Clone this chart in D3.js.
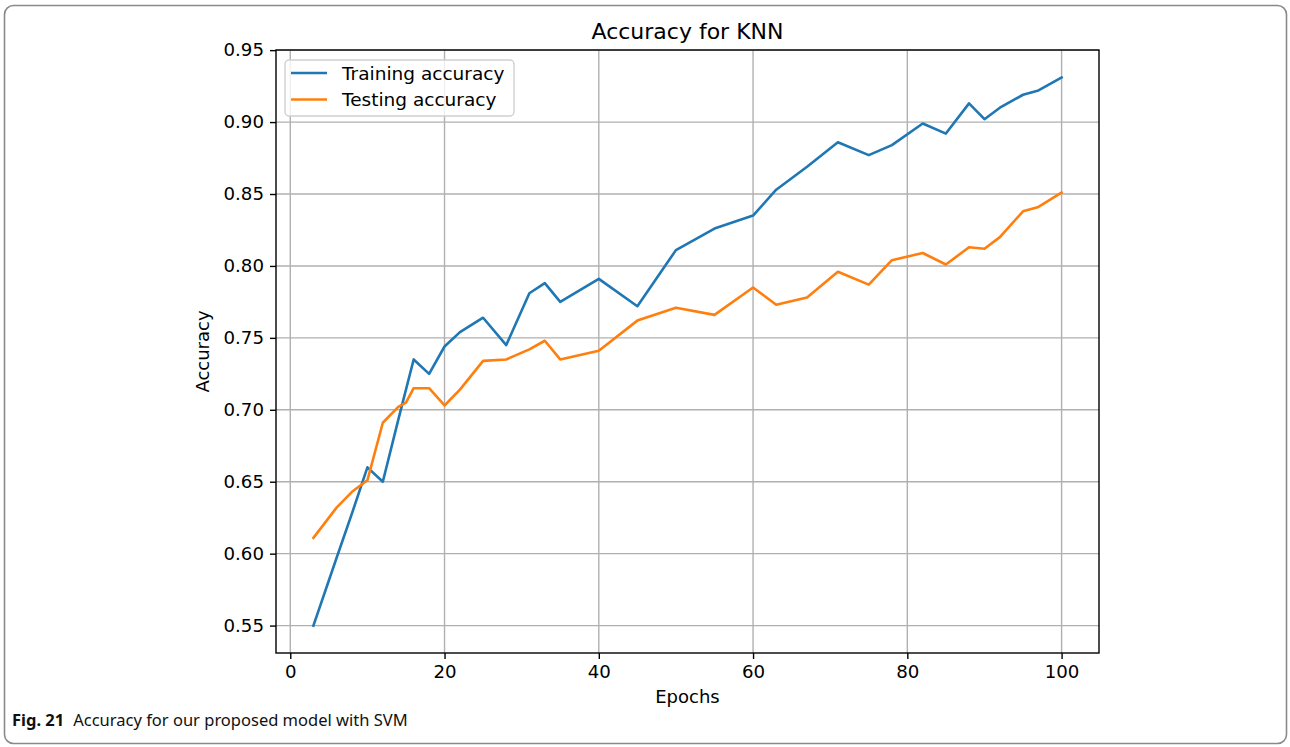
<!DOCTYPE html>
<html>
<head>
<meta charset="utf-8">
<script src="https://cdn.jsdelivr.net/npm/d3@7/dist/d3.min.js"></script>
<style>
  html, body { margin: 0; padding: 0; background: #fff; }
  svg { display: block; }
  .tick text { font-family: "DejaVu Sans", sans-serif; }
</style>
</head>
<body>
<svg id="chart" width="1290" height="747"></svg>
<script>
// ---- data ----
const epochs = [3, 6, 8, 10, 12, 14, 15, 16, 18, 20, 22, 25, 28, 31, 33, 35, 40, 45, 50, 55, 60, 63, 67, 71, 75, 78, 82, 85, 88, 90, 92, 95, 97, 100];
const trainingAccuracy = [0.550, 0.597, 0.628, 0.660, 0.650, 0.693, 0.714, 0.735, 0.725, 0.744, 0.754, 0.764, 0.745, 0.781, 0.788, 0.775, 0.791, 0.772, 0.811, 0.826, 0.835, 0.853, 0.869, 0.886, 0.877, 0.884, 0.899, 0.892, 0.913, 0.902, 0.910, 0.919, 0.922, 0.931];
const testingAccuracy = [0.611, 0.632, 0.643, 0.651, 0.691, 0.702, 0.705, 0.715, 0.715, 0.703, 0.714, 0.734, 0.735, 0.742, 0.748, 0.735, 0.741, 0.762, 0.771, 0.766, 0.785, 0.773, 0.778, 0.796, 0.787, 0.804, 0.809, 0.801, 0.813, 0.812, 0.820, 0.838, 0.841, 0.851];
const xTicks = [0, 20, 40, 60, 80, 100];
const yTicks = [0.55, 0.60, 0.65, 0.70, 0.75, 0.80, 0.85, 0.90, 0.95];
const seriesNames = ["Training accuracy", "Testing accuracy"];
const seriesColors = ["#1f77b4", "#ff7f0e"];
const chartTitle = "Accuracy for KNN";
const xLabel = "Epochs";
const yLabel = "Accuracy";
const captionBold = "Fig. 21";
const captionText = "Accuracy for our proposed model with SVM";

// ---- layout ----
const svg = d3.select("#chart");
const L = 276, R = 1099, T = 50, B = 653;

// page frame
svg.append("rect")
  .attr("x", 4.5).attr("y", 5.5).attr("width", 1282).attr("height", 738)
  .attr("rx", 9).attr("ry", 9)
  .attr("fill", "none").attr("stroke", "#8a8a8a").attr("stroke-width", 1.6);

const xMin = d3.min(epochs), xMax = d3.max(epochs);
const xPad = (xMax - xMin) * 0.05;
const allY = trainingAccuracy.concat(testingAccuracy);
const yMin = d3.min(allY), yMax = d3.max(allY);
const yPad = (yMax - yMin) * 0.05;

const x = d3.scaleLinear().domain([xMin - xPad, xMax + xPad]).range([L, R]);
const y = d3.scaleLinear().domain([yMin - yPad, 0.9501]).range([B, T]);

// grid
const grid = svg.append("g");
grid.selectAll("line.vx").data(xTicks).enter().append("line")
  .attr("x1", d => x(d)).attr("x2", d => x(d)).attr("y1", T).attr("y2", B)
  .attr("stroke", "#b0b0b0").attr("stroke-width", 1.4);
grid.selectAll("line.hy").data(yTicks).enter().append("line")
  .attr("x1", L).attr("x2", R).attr("y1", d => y(d)).attr("y2", d => y(d))
  .attr("stroke", "#b0b0b0").attr("stroke-width", 1.4);

// lines
const seriesData = [trainingAccuracy, testingAccuracy];
const line = d3.line().x(d => x(d[0])).y(d => y(d[1]));
seriesData.forEach((vals, i) => {
  svg.append("path")
    .datum(epochs.map((e, j) => [e, vals[j]]))
    .attr("d", line)
    .attr("fill", "none")
    .attr("stroke", seriesColors[i])
    .attr("stroke-width", 2.6)
    .attr("stroke-linejoin", "round")
    .attr("stroke-linecap", "square");
});

// axes
const xAxis = d3.axisBottom(x).tickValues(xTicks).tickFormat(d3.format("d")).tickSize(6).tickPadding(6);
const yAxis = d3.axisLeft(y).tickValues(yTicks).tickFormat(d3.format(".2f")).tickSize(6).tickPadding(6);
const gx = svg.append("g").attr("transform", `translate(0,${B})`).call(xAxis);
const gy = svg.append("g").attr("transform", `translate(${L},0)`).call(yAxis);
[gx, gy].forEach(g => {
  g.select(".domain").remove();
  g.selectAll(".tick line").attr("stroke", "#000").attr("stroke-width", 1.4);
  g.selectAll(".tick text").attr("fill", "#000").style("font-size", "18.2px");
});

// frame
svg.append("rect")
  .attr("x", L).attr("y", T).attr("width", R - L).attr("height", B - T)
  .attr("fill", "none").attr("stroke", "#000").attr("stroke-width", 1.4);

// title and labels
svg.append("text").attr("x", (L + R) / 2).attr("y", 39)
  .attr("text-anchor", "middle")
  .style("font-family", "DejaVu Sans").style("font-size", "22px")
  .attr("fill", "#000").text(chartTitle);
svg.append("text").attr("x", (L + R) / 2).attr("y", 703)
  .attr("text-anchor", "middle")
  .style("font-family", "DejaVu Sans").style("font-size", "18px")
  .attr("fill", "#000").text(xLabel);
svg.append("text")
  .attr("transform", `translate(209,${(T + B) / 2}) rotate(-90)`)
  .attr("text-anchor", "middle")
  .style("font-family", "DejaVu Sans").style("font-size", "18px")
  .attr("fill", "#000").text(yLabel);

// legend
const lg = svg.append("g");
lg.append("rect").attr("x", 285).attr("y", 60).attr("width", 229).attr("height", 56)
  .attr("rx", 4).attr("fill", "#fff").attr("fill-opacity", 0.8)
  .attr("stroke", "#d0d0d0").attr("stroke-width", 1.4);
seriesNames.forEach((name, i) => {
  const yy = 73 + i * 26.5;
  lg.append("line").attr("x1", 291).attr("x2", 327).attr("y1", yy).attr("y2", yy)
    .attr("stroke", seriesColors[i]).attr("stroke-width", 2.6);
  lg.append("text").attr("x", 342).attr("y", yy).attr("dy", "0.36em")
    .style("font-family", "DejaVu Sans").style("font-size", "18.5px")
    .attr("fill", "#000").text(name);
});

// caption
const cap = svg.append("text").attr("x", 12).attr("y", 726)
  .style("font-family", "'Noto Sans', sans-serif").style("font-size", "16.5px").attr("fill", "#111");
cap.append("tspan").style("font-weight", "bold").text(captionBold);
cap.append("tspan").attr("dx", 9).text(captionText);
</script>
</body>
</html>
